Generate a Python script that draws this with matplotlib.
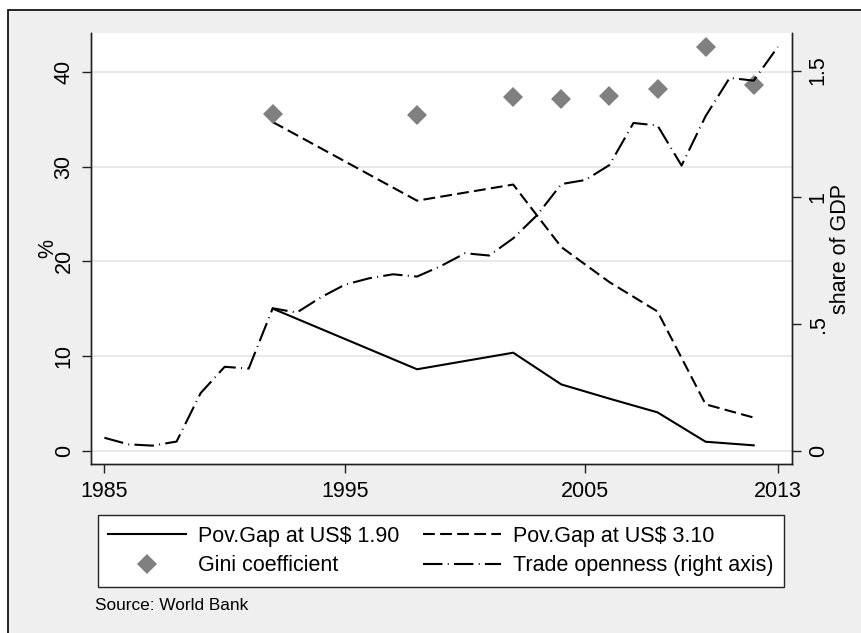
import matplotlib
matplotlib.use("Agg")
import matplotlib.pyplot as plt
from matplotlib.patches import Rectangle

plt.rcParams['font.family'] = ['Liberation Sans', 'DejaVu Sans']
plt.rcParams['lines.scale_dashes'] = False

# ---- data ----
pov_years = [1992, 1998, 2002, 2004, 2006, 2008, 2010, 2012]
pov190 = [15.0, 8.6, 10.35, 7.0, 5.5, 4.05, 0.95, 0.57]
pov310 = [34.7, 26.4, 28.1, 21.5, 17.8, 14.7, 4.9, 3.5]
gini = [35.6, 35.4, 37.3, 37.1, 37.4, 38.2, 42.6, 38.6]

trade_years = list(range(1985, 2014))
trade = [0.051, 0.025, 0.020, 0.036, 0.227, 0.331, 0.324, 0.562, 0.545,
         0.605, 0.655, 0.680, 0.696, 0.687, 0.729, 0.779, 0.770, 0.838,
         0.930, 1.052, 1.068, 1.127, 1.293, 1.283, 1.125, 1.320, 1.471,
         1.460, 1.593]

xticks = [1985, 1995, 2005, 2013]
yticks_left = [0, 10, 20, 30, 40]
yticks_right = [0, 0.5, 1.0, 1.5]
yticklabels_right = ['0', '.5', '1', '1.5']

W, H = 861, 633
fig = plt.figure(figsize=(W / 100, H / 100), dpi=100, facecolor='white')

# outer gray panel with black frame
bg = Rectangle((8 / W, -0.05), 1.2, 1 - 10 / H + 0.05, transform=fig.transFigure,
               facecolor='#efefef', edgecolor='black', linewidth=1.2, zorder=-10)
fig.patches.append(bg)

ax = fig.add_axes([90.7 / W, (H - 464) / H, (791.7 - 90.7) / W, (464 - 33) / H])
ax.set_facecolor('white')
ax.set_xlim(1984.43, 2013.58)
ax.set_ylim(-1.4, 44.1)

for y in yticks_left:
    ax.axhline(y, color='#e6e6e6', linewidth=1.3, zorder=0)

l1, = ax.plot(pov_years, pov190, color='black', linewidth=1.5, solid_joinstyle='miter',
              label='Pov.Gap at US$ 1.90', zorder=3)
l2, = ax.plot(pov_years, pov310, color='black', linewidth=1.5, linestyle=(0, (8.5, 3.8)),
              label='Pov.Gap at US$ 3.10', zorder=3)
l3, = ax.plot(pov_years, gini, linestyle='none', marker='D', markersize=10,
              color='#808080', markeredgewidth=0, label='Gini coefficient', zorder=4)

ax2 = ax.twinx()
ax2.set_ylim(-0.0525, 1.648)
l4, = ax2.plot(trade_years, trade, color='black', linewidth=1.5,
               linestyle=(0, (14, 3.8, 0.7, 3.8)), label='Trade openness (right axis)', zorder=3)

for a in (ax, ax2):
    a.spines['top'].set_visible(False)
    for s in ('left', 'right', 'bottom'):
        a.spines[s].set_color('#222222')
        a.spines[s].set_linewidth(1.0)

ax.set_xticks(xticks)
ax.set_xticklabels([str(x) for x in xticks])
ax.set_yticks(yticks_left)
ax.set_yticklabels([str(y) for y in yticks_left], rotation=90, va='center')
ax2.set_yticks(yticks_right)
ax2.set_yticklabels(yticklabels_right, rotation=90, va='center')

ax.tick_params(axis='both', direction='out', length=6.5, width=1.0, color='#222222',
               labelsize=15.5, pad=5)
ax.tick_params(axis='x', pad=6)
ax2.tick_params(axis='y', direction='out', length=6.5, width=1.0, color='#222222',
                labelsize=15.5, pad=5)

ax.set_ylabel('%', fontsize=15.5, labelpad=-3)
ax2.set_ylabel('share of GDP', fontsize=15.5, labelpad=0.8)

leg = fig.legend(handles=[l1, l3, l2, l4], ncol=2, loc='upper left',
                 bbox_to_anchor=(97.7 / W, (H - 586.5) / H, (784 - 97.7) / W, (586.5 - 514.8) / H),
                 mode='expand', fontsize=15.5, frameon=True, fancybox=False,
                 edgecolor='#222222', facecolor='white', framealpha=1,
                 handlelength=3.6, handletextpad=0.55, borderpad=0.5,
                 labelspacing=0.4, borderaxespad=0, columnspacing=1.0)
leg.get_frame().set_linewidth(1.0)

fig.text(95 / W, 1 - 605 / H, 'Source: World Bank', fontsize=12.4, va='center', ha='left')

fig.savefig('out.png', dpi=100, facecolor=fig.get_facecolor())
